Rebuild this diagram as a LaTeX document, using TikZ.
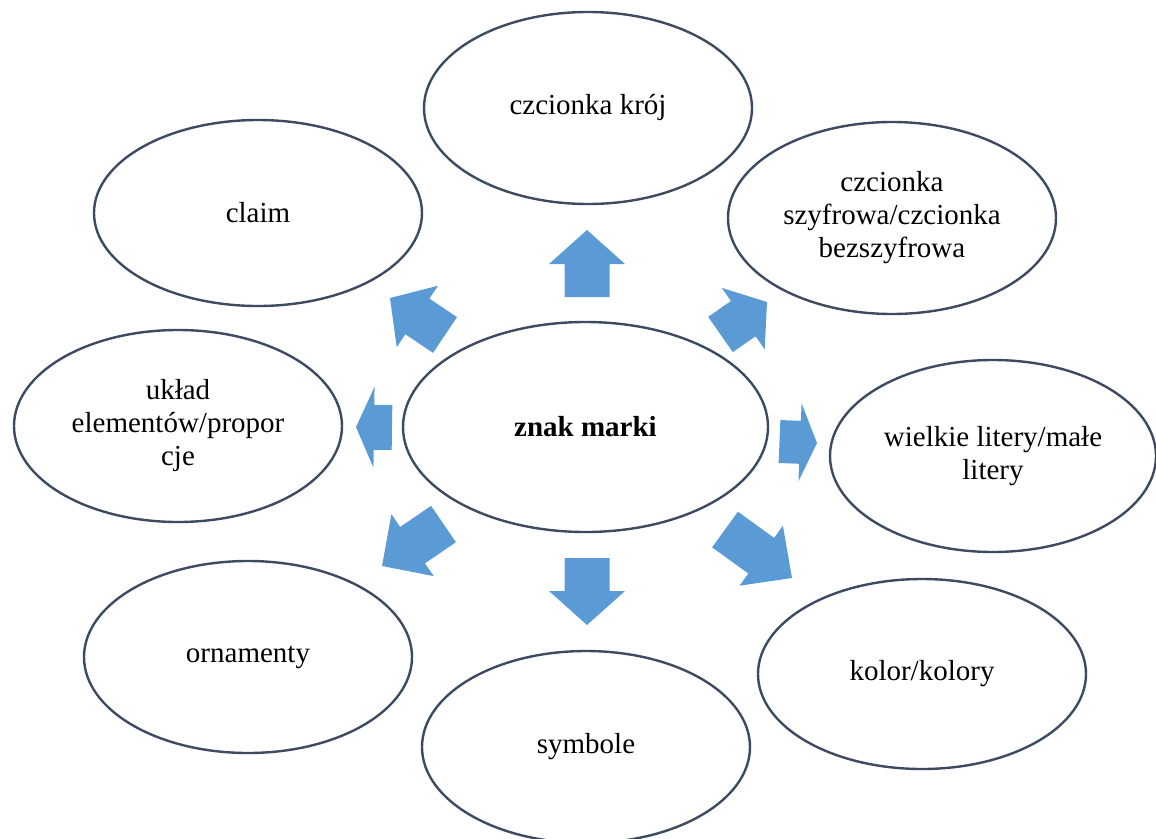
\documentclass[tikz,border=0pt]{standalone}
\usepackage{fontspec}
\setmainfont{Liberation Serif}
\usetikzlibrary{shapes.geometric,calc}
\definecolor{arrowblue}{HTML}{5B9BD5}
\definecolor{rimcol}{HTML}{3D4B61}
\newcommand{\blockarrow}[4]{%
  \coordinate (#1-hb) at ($(#1-t)!#4pt!(#1-b)$);
  \fill[arrowfill] ($(#1-b)!#2pt!90:(#1-t)$) -- ($(#1-hb)!#2pt!90:(#1-t)$)
    -- ($(#1-hb)!#3pt!90:(#1-t)$) -- (#1-t) -- ($(#1-hb)!#3pt!-90:(#1-t)$)
    -- ($(#1-hb)!#2pt!-90:(#1-t)$) -- ($(#1-b)!#2pt!-90:(#1-t)$) -- cycle;}
\tikzset{
  bubble/.style={ellipse, draw=rimcol, line width=2.4pt, fill=white,
    inner sep=0pt, minimum width=328pt, minimum height=192pt,
    align=center, font=\fontsize{29}{33}\selectfont},
  arrowfill/.style={fill=arrowblue}
}
\begin{document}
\begin{tikzpicture}[x=1pt,y=-1pt]
\useasboundingbox (0,0) rectangle (1156,838);
\begin{scope}
\clip (0,0) rectangle (1156,838);
\node[bubble] (top) at (588,108) {czcionka krój};
\node[bubble, minimum height=186pt] (claim) at (258,213) {claim};
\node[bubble] (szyfr) at (892,218) {czcionka\\szyfrowa/czcionka\\bezszyfrowa};
\node[bubble] (uklad) at (178,426) {układ\\elementów/propor\\cje};
\node[bubble, minimum width=326pt] (wielkie) at (993,456) {wielkie litery/małe\\litery};
\node[bubble] (orn) at (248,657) {ornamenty};
\node[bubble] (sym) at (586,747) {symbole};
\node[bubble, minimum height=190pt] (kolor) at (922,674) {kolor/kolory};
\node[bubble, minimum width=365pt, minimum height=210pt] (center) at (585.5,427) {\bfseries znak marki};
\end{scope}
% block arrows
\coordinate (up-b) at (587,297); \coordinate (up-t) at (587,230);
\blockarrow{up}{22.5}{38}{34}
\coordinate (dn-b) at (587,558); \coordinate (dn-t) at (587,625);
\blockarrow{dn}{22.5}{38}{34}
\coordinate (lf-b) at (392,427.5); \coordinate (lf-t) at (356,427);
\blockarrow{lf}{22.5}{40.5}{18}
\coordinate (rt-b) at (779.5,441.5); \coordinate (rt-t) at (817,443);
\blockarrow{rt}{21.5}{39}{17}
\coordinate (ul-b) at (445,335); \coordinate (ul-t) at (390,298);
\blockarrow{ul}{21.5}{37}{33}
\coordinate (ur-b) at (720.5,334.5); \coordinate (ur-t) at (767,302);
\blockarrow{ur}{21.5}{37.5}{29}
\coordinate (ll-b) at (443.5,524); \coordinate (ll-t) at (382,566);
\blockarrow{ll}{22}{37.5}{37}
\coordinate (lr-b) at (725,529.5); \coordinate (lr-t) at (792,578);
\blockarrow{lr}{22}{37}{38}
\end{tikzpicture}
\end{document}
